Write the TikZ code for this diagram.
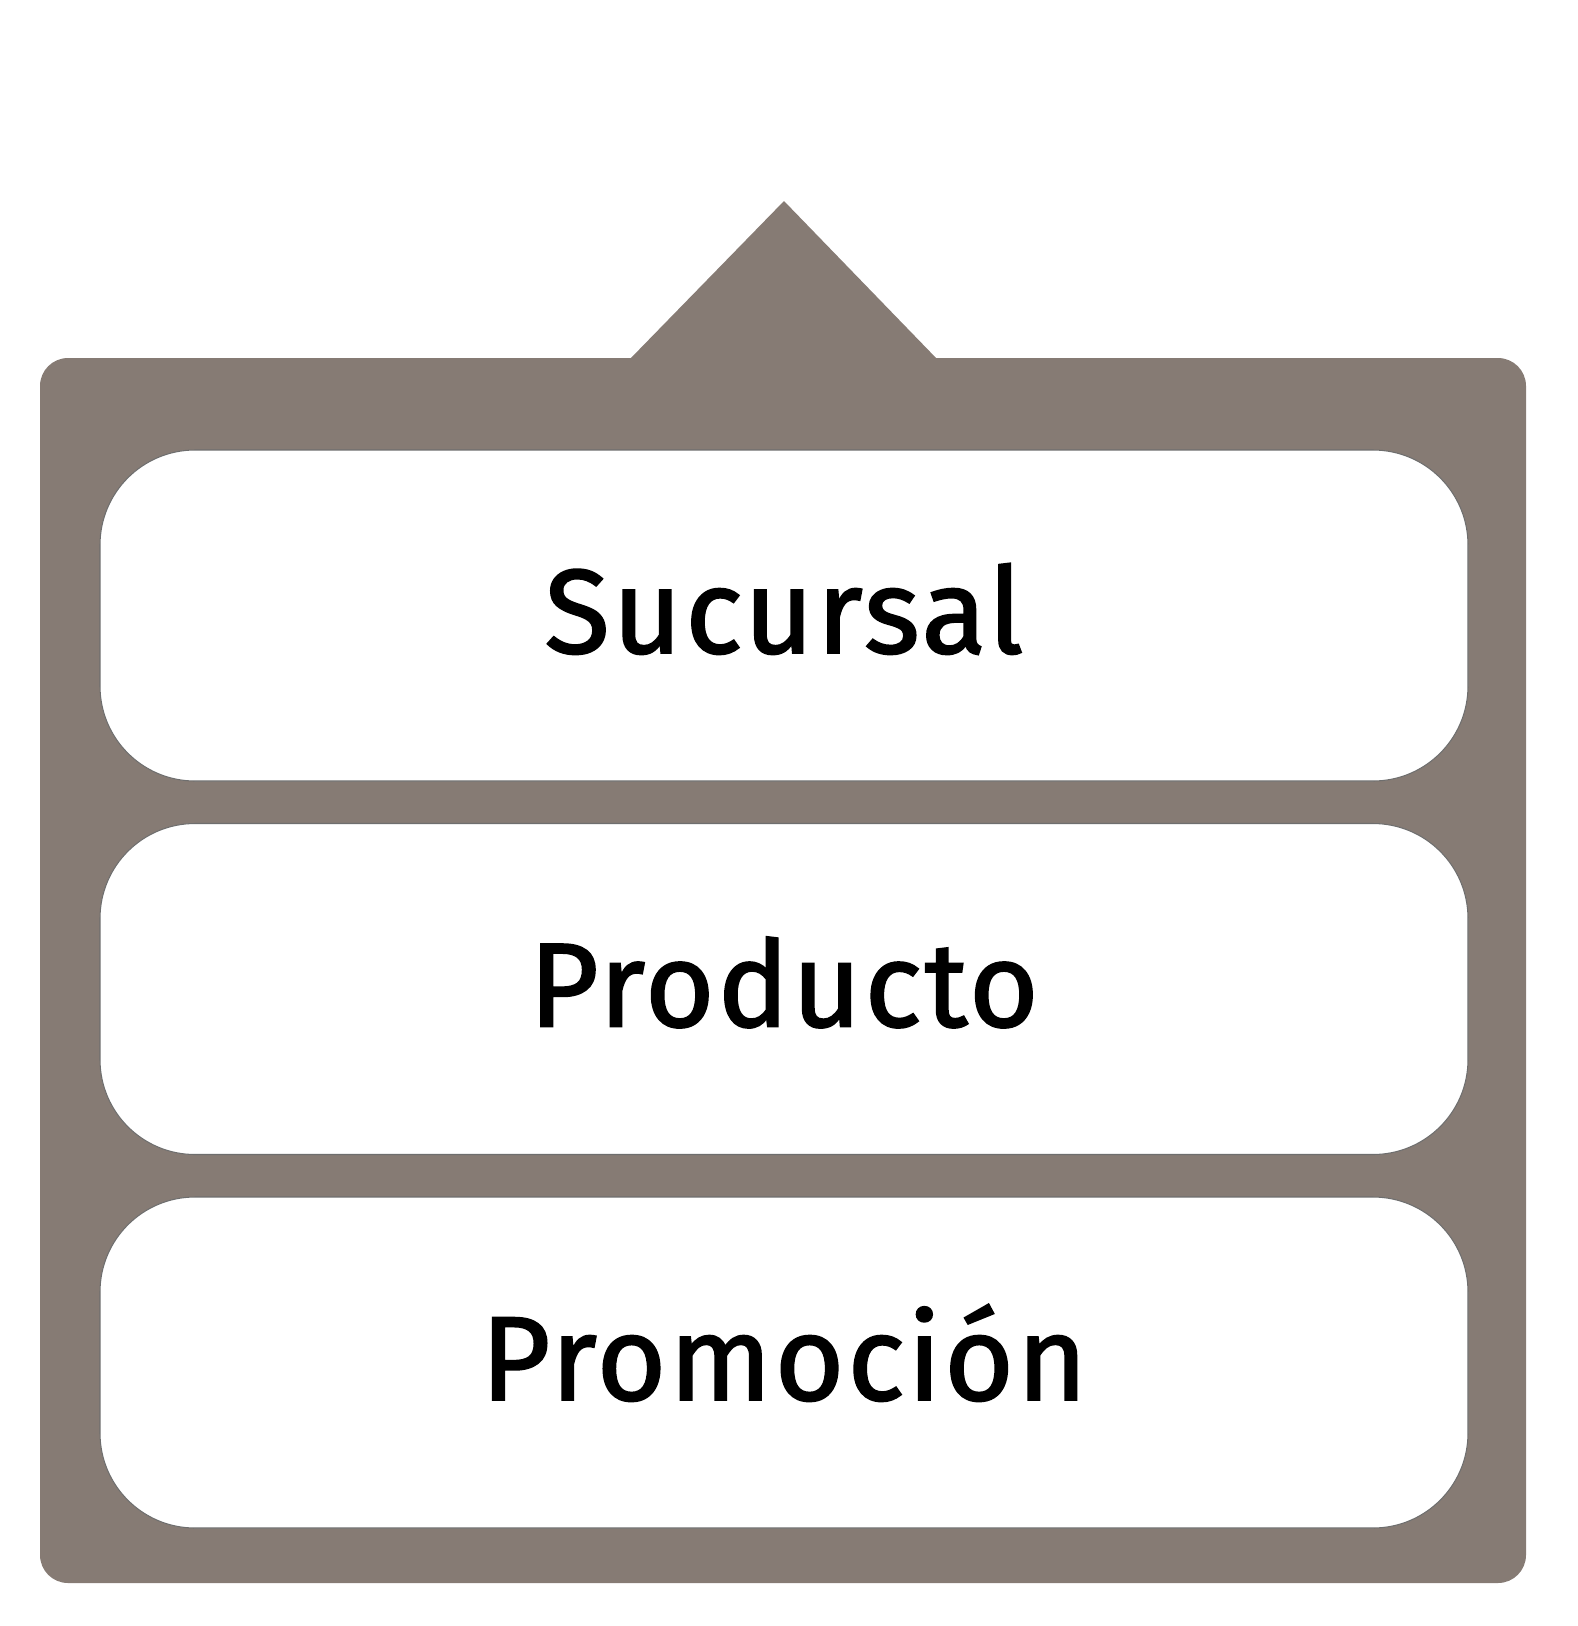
\documentclass[tikz,border=0pt]{standalone}
\usepackage{fontspec}
\setmainfont{Fira Sans}
\newfontfamily\labelfont{Fira Sans}[FakeBold=1.6, LetterSpace=2.5]
\usetikzlibrary{shapes}
\definecolor{framegray}{RGB}{134,123,116}
\definecolor{edgegray}{RGB}{110,110,110}

\begin{document}
\begin{tikzpicture}
	\tikzstyle{every node} = [rectangle]
	\tikzstyle{item} = [rectangle, rounded corners=1.9cm, fill=white, draw=edgegray, line width=0.6pt,
	                    minimum width=27.36cm, minimum height=6.62cm,
	                    text height=1.8cm, text depth=0.3cm,
	                    font=\labelfont\fontsize{68}{82}\selectfont]
	\useasboundingbox (0,0) rectangle (31.56,-32.52);
	% frame with the pointer on top
	\fill [framegray, rounded corners=0.56cm] (0.8,-7.16) rectangle (30.52,-31.66);
	\fill [framegray] (12.58,-7.2) -- (15.68,-4.02) -- (18.76,-7.2) -- cycle;
	\node [item] (sucursal)  at (15.68,-12.31) {Sucursal};
	\node [item] (producto)  at (15.68,-19.78) {Producto};
	\node [item] (promocion) at (15.68,-27.25) {Promoción};
\end{tikzpicture}
\end{document}
